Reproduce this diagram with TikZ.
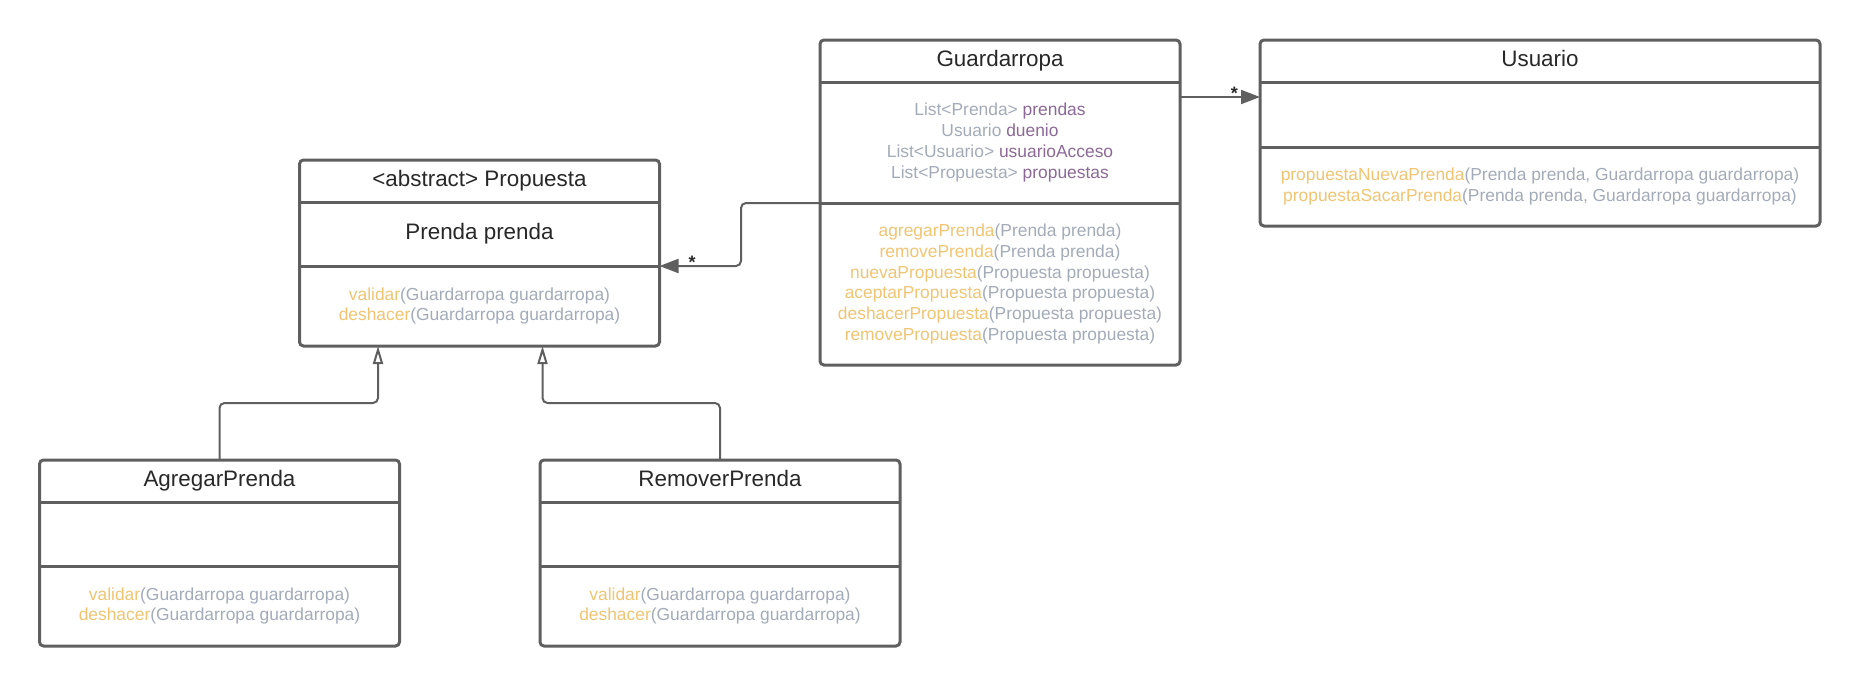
\documentclass[tikz,border=0pt]{standalone}
\usepackage{fontspec}
\setmainfont{Liberation Sans}
\usetikzlibrary{arrows.meta}
\usetikzlibrary{positioning}
\definecolor{umlline}{RGB}{95,95,95}
\definecolor{umltext}{RGB}{40,40,40}
\definecolor{mcolor}{RGB}{240,196,115}
\definecolor{tcolor}{RGB}{163,171,184}
\definecolor{acolor}{RGB}{140,104,150}
\newcommand{\mname}[1]{\textcolor{mcolor}{#1}}
\newcommand{\tname}[1]{\textcolor{tcolor}{#1}}
\newcommand{\aname}[1]{\textcolor{acolor}{#1}}
% outline and separators of one class
\newcommand{\classframe}[1]{%
  \draw[box] (#1.north west) rectangle (#1-m.south east);
  \draw[sep] (#1.south west) -- (#1.south east);
  \draw[sep] (#1-a.south west) -- (#1-a.south east);}

\begin{document}
\begin{tikzpicture}[x=0.5pt,
                    y=-0.5pt,
                    ttl/.style={minimum width=180pt, minimum height=21pt, inner sep=0pt, outer sep=0pt,
                                text=umltext, font=\fontsize{11.2}{13}\selectfont,
                                text height=8.4pt, text depth=2.8pt},
                    sect/.style={minimum width=180pt, minimum height=32pt, inner sep=0pt, outer sep=0pt,
                                 align=center, text=umltext, font=\fontsize{8.7}{10.35}\selectfont},
                    msect/.style={sect, minimum height=40pt},
                    box/.style={draw=umlline, line width=1.5pt, rounded corners=2pt},
                    sep/.style={draw=umlline, line width=1.5pt},
                    gen/.style={draw=umlline, line width=1pt, rounded corners=2.5pt,
                                -{Triangle[open, length=9pt, width=5pt]}},
                    assoc/.style={draw=umlline, line width=1pt, rounded corners=2.5pt,
                                  -{Triangle[length=9.5pt, width=7pt]}},
                    mult/.style={inner sep=0.5pt, text=umltext, font=\bfseries\fontsize{9}{10}\selectfont}
                    ]
  \useasboundingbox (0,0) rectangle (1860,686);

  % Propuesta
  \node[ttl] (prop) at (479.5,181) {<abstract> Propuesta};
  \node[sect, below=0pt of prop, font=\fontsize{11.2}{13}\selectfont] (prop-a) {Prenda prenda};
  \node[msect, below=0pt of prop-a] (prop-m) {\mname{validar}\tname{(Guardarropa guardarropa)}\\
                                              \mname{deshacer}\tname{(Guardarropa guardarropa)}};
  \classframe{prop}

  % Guardarropa
  \node[ttl] (guard) at (1000,61) {Guardarropa};
  \node[sect, below=0pt of guard, minimum height=60.5pt] (guard-a) {\tname{List<Prenda>} \aname{prendas}\\
                                                                    \tname{Usuario} \aname{duenio}\\
                                                                    \tname{List<Usuario>} \aname{usuarioAcceso}\\
                                                                    \tname{List<Propuesta>} \aname{propuestas}};
  \node[msect, below=0pt of guard-a, minimum height=81pt] (guard-m) {\mname{agregarPrenda}\tname{(Prenda prenda)}\\
                                                                     \mname{removePrenda}\tname{(Prenda prenda)}\\
                                                                     \mname{nuevaPropuesta}\tname{(Propuesta propuesta)}\\
                                                                     \mname{aceptarPropuesta}\tname{(Propuesta propuesta)}\\
                                                                     \mname{deshacerPropuesta}\tname{(Propuesta propuesta)}\\
                                                                     \mname{removePropuesta}\tname{(Propuesta propuesta)}};
  \classframe{guard}

  % Usuario
  \node[ttl, minimum width=280pt] (usr) at (1540,61) {Usuario};
  \node[sect, below=0pt of usr, minimum width=280pt, minimum height=32.5pt] (usr-a) {};
  \node[msect, below=0pt of usr-a, minimum width=280pt, minimum height=39.5pt] (usr-m)
       {\mname{propuestaNuevaPrenda}\tname{(Prenda prenda, Guardarropa guardarropa)}\\
        \mname{propuestaSacarPrenda}\tname{(Prenda prenda, Guardarropa guardarropa)}};
  \classframe{usr}

  % AgregarPrenda
  \node[ttl] (agr) at (219.5,481) {AgregarPrenda};
  \node[sect, below=0pt of agr] (agr-a) {};
  \node[msect, below=0pt of agr-a] (agr-m) {\mname{validar}\tname{(Guardarropa guardarropa)}\\
                                            \mname{deshacer}\tname{(Guardarropa guardarropa)}};
  \classframe{agr}

  % RemoverPrenda
  \node[ttl] (rem) at (720,481) {RemoverPrenda};
  \node[sect, below=0pt of rem] (rem-a) {};
  \node[msect, below=0pt of rem-a] (rem-m) {\mname{validar}\tname{(Guardarropa guardarropa)}\\
                                            \mname{deshacer}\tname{(Guardarropa guardarropa)}};
  \classframe{rem}

  % connectors
  \coordinate (prop-l) at ([xshift=-50.75pt]prop-m.south);
  \coordinate (prop-r) at ([xshift=31.5pt]prop-m.south);
  \draw[gen] (agr.north) -- ++(0,-57) -| (prop-l);
  \draw[gen] (rem.north) -- ++(0,-57) -| (prop-r);
  \draw[assoc] (guard-a.south west) -- ++(-79,0) |- node[mult, pos=0.8, yshift=2pt] {*} (prop-a.south east);
  \draw[assoc] ([yshift=-7.5pt]guard-a.north east) -- node[mult, pos=0.68, yshift=2pt] {*} ([yshift=-7.5pt]usr-a.north west);
\end{tikzpicture}
\end{document}
